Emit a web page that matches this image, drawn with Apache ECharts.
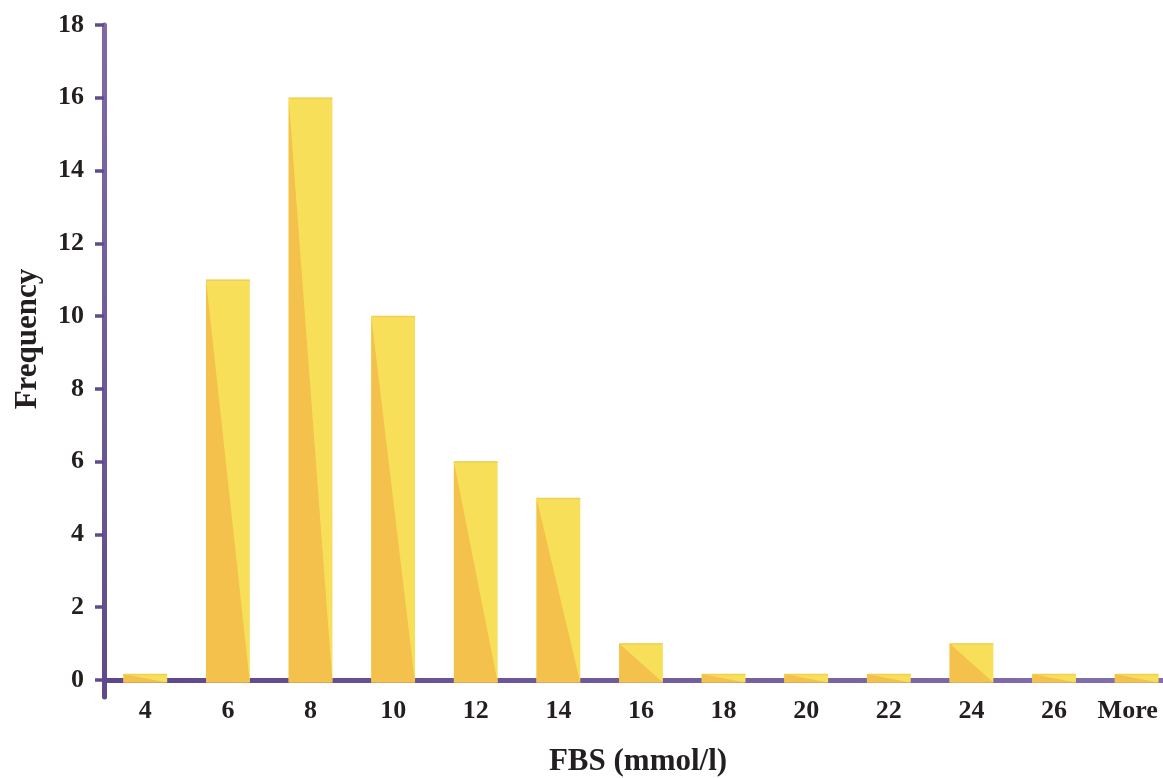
<!DOCTYPE html>
<html>
<head>
<meta charset="utf-8">
<script src="https://cdn.jsdelivr.net/npm/echarts@6/dist/echarts.min.js"></script>
<style>
  html, body { margin: 0; padding: 0; background: #fff; overflow: hidden; }
  /* plot runs past the right edge in the original, so the canvas is a bit wider than the window */
  #chart { width: 1178px; height: 778px; }
</style>
</head>
<body>
<div id="chart"></div>
<script>
const categories = ['4', '6', '8', '10', '12', '14', '16', '18', '20', '22', '24', '26', 'More']
const frequency = [0, 11, 16, 10, 6, 5, 1, 0, 0, 0, 1, 0, 0]
const yTicks = [0, 2, 4, 6, 8, 10, 12, 14, 16, 18]

const font = 'Liberation Serif'
const yellow = '#f8df5a'
const orange = '#f3c14c'
const purple = '#604c8c'

let chart = echarts.init(document.getElementById('chart'))

function renderBar(params, api) {
    let base = api.coord([api.value(0), 0])
    let top = api.coord([api.value(0), api.value(1)])
    let w = api.size([1, 0])[0] * 0.53
    let left = base[0] - w / 2
    let right = left + w
    let yTop = Math.min(top[1], base[1] - 6)   // zero bars still show a sliver
    let bottom = base[1] + 2.5
    return {
        type: 'group',
        children: [
            { type: 'rect', shape: { x: left, y: yTop, width: w, height: bottom - yTop }, style: { fill: yellow } },
            { type: 'polygon', shape: { points: [[left, yTop], [right, bottom], [left, bottom]] }, style: { fill: orange } },
            { type: 'line', shape: { x1: left, y1: yTop + 0.5, x2: right, y2: yTop + 0.5 }, style: { stroke: '#f1cf52', lineWidth: 1.5 } }
        ]
    }
}

chart.setOption({
    animation: false,
    grid: { left: 104, right: 0, top: 25, bottom: 81 },
    xAxis: {
        type: 'category',
        data: categories,
        axisLine: {
            onZero: true,
            lineStyle: {
                width: 5,
                color: new echarts.graphic.LinearGradient(0, 0, 1, 0, [
                    { offset: 0, color: '#5b4789' },
                    { offset: 1, color: '#8671af' }
                ])
            }
        },
        axisTick: { show: false },
        axisLabel: {
            interval: 0,
            margin: 1, fontFamily: font, fontSize: 26, fontWeight: 'bold', color: '#231f20',
            // last label sits a little left so it stays inside the window
            formatter: v => v === 'More' ? '{m|More}' : v,
            rich: { m: { fontFamily: font, fontSize: 26, fontWeight: 'bold', color: '#231f20', padding: [0, 18, 0, 0] } }
        }
    },
    yAxis: {
        type: 'value',
        min: -0.47,
        max: 18,
        splitLine: { show: false },
        axisLine: {
            show: true,
            lineStyle: {
                width: 5,
                color: new echarts.graphic.LinearGradient(0, 0, 0, 1, [
                    { offset: 0, color: '#7f69a9' },
                    { offset: 1, color: '#5e4a8a' }
                ])
            }
        },
        axisTick: { show: true, length: 9, customValues: yTicks, lineStyle: { width: 3.5, color: purple } },
        axisLabel: { margin: 20, customValues: yTicks, fontFamily: font, fontSize: 26, fontWeight: 'bold', color: '#231f20' }
    },
    graphic: [
        {
            type: 'text', x: 28, y: 339, rotation: Math.PI / 2,
            style: { text: 'Frequency', fill: '#231f20', font: 'bold 31px "' + font + '"', align: 'center', verticalAlign: 'middle' }
        },
        {
            type: 'text', x: 638, y: 762,
            style: { text: 'FBS (mmol/l)', fill: '#231f20', font: 'bold 31px "' + font + '"', align: 'center', verticalAlign: 'middle' }
        }
    ],
    series: [{
        type: 'custom',
        renderItem: renderBar,
        encode: { x: 0, y: 1 },
        data: frequency.map((v, i) => [i, v]),
        z: 1
    }]
})
</script>
</body>
</html>
